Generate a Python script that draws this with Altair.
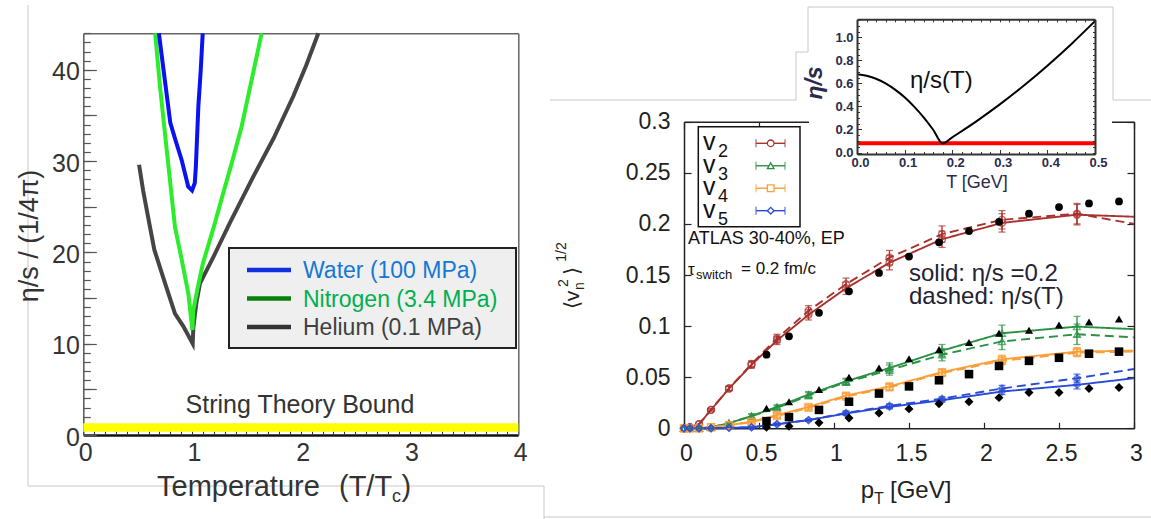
import altair as alt
import pandas as pd

W, H = 1151, 519
FONT = "Liberation Sans"

# ---------------- left panel: eta/s over T/Tc ----------------
fluids = ["Water (100 MPa)", "Nitrogen (3.4 MPa)", "Helium (0.1 MPa)"]
water_T = [0.695, 0.74, 0.80, 0.85, 0.905, 0.965, 1.0, 1.025, 1.035, 1.058, 1.08, 1.098]
water_v = [44, 39.8, 34.2, 32.2, 30.1, 27.2, 26.8, 27.6, 29.4, 36, 40, 44]
nitro_T = [0.661, 0.705, 0.77, 0.843, 0.90, 0.966, 1.003, 1.012, 1.05, 1.10, 1.20, 1.287, 1.37, 1.456, 1.55, 1.64]
nitro_v = [44, 38.2, 30.9, 22.8, 19.5, 15.5, 11.5, 13.7, 16.0, 18.8, 22.8, 26.5, 30.0, 33.8, 39.0, 44]
helium_T = [0.513, 0.55, 0.589, 0.653, 0.75, 0.843, 0.92, 1.006, 1.012, 1.04, 1.073, 1.2, 1.35, 1.563, 1.75, 1.931, 2.05, 2.161]
helium_v = [29.6, 26.8, 24.3, 20.3, 16.7, 13.3, 11.9, 10.0, 11.8, 14.5, 16.6, 19.6, 23.3, 28.3, 32.5, 37.1, 40.5, 44]
bound_lo, bound_hi = 0.35, 1.3
left_x_labels = [0, 1, 2, 3, 4]
left_y_labels = [0, 10, 20, 30, 40]
left_y_minor = list(range(0, 45))
left_y_major = list(range(0, 45, 5))
left_x_minor = [i / 10 for i in range(41)]

# ---------------- right panel: <v_n^2>^1/2 over pT ----------------
harmonics = ["v2", "v3", "v4", "v5"]
harm_subs = ["2", "3", "4", "5"]
pt_model = [0, 0.04, 0.1, 0.18, 0.3, 0.45, 0.62, 0.83, 1.08, 1.37, 1.72, 2.12, 2.62, 3.0]
v2_solid = [0, 0.001, 0.004, 0.018, 0.039, 0.062, 0.086, 0.111, 0.137, 0.162, 0.185, 0.201, 0.209, 0.207]
v2_dash = [0, 0.001, 0.004, 0.018, 0.039, 0.063, 0.088, 0.115, 0.141, 0.167, 0.190, 0.204, 0.210, 0.200]
v3_solid = [0, 0, 0, 0.001, 0.005, 0.012, 0.021, 0.033, 0.046, 0.059, 0.076, 0.093, 0.0995, 0.097]
v3_dash = [0, 0, 0, 0.001, 0.005, 0.012, 0.020, 0.032, 0.045, 0.057, 0.072, 0.085, 0.092, 0.089]
v4_solid = [0, 0, 0, 0.001, 0.003, 0.0065, 0.013, 0.021, 0.032, 0.041, 0.055, 0.0675, 0.075, 0.076]
v4_dash = [0, 0, 0, 0.001, 0.003, 0.006, 0.012, 0.020, 0.031, 0.040, 0.054, 0.066, 0.074, 0.075]
v5_solid = [0, 0, 0, 0, 0.0005, 0.001, 0.004, 0.008, 0.0145, 0.021, 0.0275, 0.036, 0.0425, 0.049]
v5_dash = [0, 0, 0, 0, 0.0005, 0.001, 0.004, 0.008, 0.015, 0.022, 0.029, 0.039, 0.049, 0.058]
v2_err = [0, 0, 0, 0.001, 0.002, 0.003, 0.004, 0.005, 0.006, 0.007, 0.008, 0.009, 0.010, 0]
v3_err = [0, 0, 0, 0, 0.001, 0.002, 0.002, 0.003, 0.003, 0.005, 0.006, 0.008, 0.010, 0]
v4_err = [0, 0, 0, 0, 0.001, 0.001, 0.002, 0.002, 0.003, 0.003, 0.003, 0.004, 0.004, 0]
v5_err = [0, 0, 0, 0, 0, 0.001, 0.001, 0.001, 0.002, 0.002, 0.002, 0.003, 0.004, 0]

pt_atlas = [0.55, 0.7, 0.9, 1.1, 1.3, 1.5, 1.7, 1.9, 2.1, 2.3, 2.5, 2.7, 2.9]
v2_atlas = [0.072, 0.090, 0.113, 0.134, 0.152, 0.168, 0.182, 0.193, 0.202, 0.210, 0.2165, 0.220, 0.222]
v3_atlas = [0.0196, 0.026, 0.038, 0.050, 0.059, 0.068, 0.077, 0.084, 0.093, 0.096, 0.101, 0.104, 0.107]
v4_atlas = [0.007, 0.011, 0.018, 0.026, 0.034, 0.041, 0.047, 0.053, 0.061, 0.066, 0.069, 0.073, 0.075]
v5_atlas = [0.001, 0.002, 0.0055, 0.010, 0.015, 0.019, 0.024, 0.026, 0.030, 0.035, 0.035, 0.039, 0.040]
main_x_vals = [0, 0.5, 1, 1.5, 2, 2.5, 3]
main_y_vals = [0, 0.05, 0.1, 0.15, 0.2, 0.25, 0.3]

# ---------------- inset: eta/s(T) ----------------
inset_T = [0, 0.02, 0.04, 0.06, 0.08, 0.10, 0.12, 0.14, 0.16, 0.18, 0.20, 0.25, 0.30, 0.35, 0.40, 0.45, 0.50]
inset_eta = [0.68, 0.668, 0.641, 0.601, 0.547, 0.480, 0.399, 0.306, 0.198, 0.078, 0.132, 0.269, 0.418, 0.58, 0.755, 0.942, 1.142]
kss_T = [0, 0.5]
kss_v = [0.08, 0.08]
inset_x_vals = [0, 0.1, 0.2, 0.3, 0.4, 0.5]
inset_y_vals = [0, 0.2, 0.4, 0.6, 0.8, 1.0]
inset_x_minor = [round(0.02 * i, 2) for i in range(26)]
inset_y_minor = [round(0.05 * i, 2) for i in range(24)]

# ---------------- styles ----------------
fluid_line_colors = ["#0a12f2", "#2cec2c", "#454545"]
fluid_leg_line_colors = ["#1030e0", "#0a800a", "#333333"]
fluid_leg_text_colors = ["#1478d4", "#00b050", "#404040"]
harm_colors = ["#a8322d", "#2a9143", "#fb9f3a", "#2a4bd7"]
harm_shapes = ["circle", "triangle-up", "square", "diamond"]
harm_black_sizes = [60, 80, 90, 80]

LX = alt.Scale(domain=[0, 4], range=[83.3, 518.3], nice=False, zero=False)
LY = alt.Scale(domain=[0, 44], range=[435, 33.3], nice=False, zero=False)
MX = alt.Scale(domain=[0, 3], range=[684, 1134], nice=False, zero=False)
MY = alt.Scale(domain=[0, 0.3], range=[428.3, 121.7], nice=False, zero=False)
IX = alt.Scale(domain=[0, 0.5], range=[857, 1095], nice=False, zero=False)
IY = alt.Scale(domain=[-0.013, 1.158], range=[154, 19.3], nice=False, zero=False)

dummy = pd.DataFrame({"k": [0]})


def ax_layer(ch, scale, values, orient, pos, **kw):
    if orient == "left":
        off = -pos
    elif orient == "right":
        off = pos - W
    elif orient == "top":
        off = -pos
    else:
        off = pos - H
    opts = dict(values=values, orient=orient, offset=off, title=None, grid=False,
                labelFlush=False, labelOverlap=False, labels=False, ticks=False,
                domain=False, tickSize=0, labelFont=FONT)
    opts.update(kw)
    ax = alt.Axis(**opts)
    df = pd.DataFrame({"v": values})
    if ch == "x":
        enc = dict(x=alt.X("v:Q", scale=scale, axis=ax))
    else:
        enc = dict(y=alt.Y("v:Q", scale=scale, axis=ax))
    return alt.Chart(df).mark_point(opacity=0).encode(**enc)


def txt(s, x, y, size, color="#333333", align="left", baseline="alphabetic",
        angle=0, weight="normal", style="normal", font=FONT, line_height=None):
    kw = dict(text=s, fontSize=size, color=color, align=align, baseline=baseline,
              angle=angle, fontWeight=weight, fontStyle=style, font=font)
    if line_height:
        kw["lineHeight"] = line_height
    return alt.Chart(dummy).mark_text(**kw).encode(x=alt.value(x), y=alt.value(y))


def seg(x1, y1, x2, y2, color="#c8c8c8", width=1):
    return alt.Chart(dummy).mark_rule(color=color, strokeWidth=width).encode(
        x=alt.value(x1), y=alt.value(y1), x2=alt.value(x2), y2=alt.value(y2))


def box(x1, y1, x2, y2, fill, stroke=None, sw=0):
    kw = dict(fill=fill, strokeWidth=sw)
    if stroke:
        kw["stroke"] = stroke
    return alt.Chart(dummy).mark_rect(**kw).encode(
        x=alt.value(x1), y=alt.value(y1), x2=alt.value(x2), y2=alt.value(y2))


layers = []

# decorative slide frames
for s in [(28, 5, 28, 486), (28, 486, 544, 486), (544, 486, 544, 519), (544, 517, 1151, 517),
          (550, 100, 796, 100), (796, 52, 796, 100), (796, 52, 808, 52),
          (1113, 100, 1151, 100)]:
    layers.append(seg(*s))

# ---------- left panel ----------
band = pd.DataFrame({"x0": [0], "x1": [4], "y0": [bound_lo], "y1": [bound_hi]})
layers.append(alt.Chart(band).mark_rect(color="#ffff00").encode(
    x=alt.X("x0:Q", scale=LX, axis=None), x2="x1:Q",
    y=alt.Y("y0:Q", scale=LY, axis=None), y2="y1:Q"))


def left_line(Ts, vs, color):
    df = pd.DataFrame({"T": Ts, "v": vs, "i": list(range(len(Ts)))})
    return alt.Chart(df).mark_line(color=color, strokeWidth=4).encode(
        x=alt.X("T:Q", scale=LX, axis=None), y=alt.Y("v:Q", scale=LY, axis=None),
        order="i:Q")


layers.append(left_line(helium_T, helium_v, fluid_line_colors[2]))
layers.append(left_line(nitro_T, nitro_v, fluid_line_colors[1]))
layers.append(left_line(water_T, water_v, fluid_line_colors[0]))

# left axes
layers.append(ax_layer("y", LY, left_y_labels, "left", 83.3, labels=True, domain=True,
                       domainColor="#555555", domainWidth=1.5, labelFontSize=25,
                       labelColor="#333333", labelPadding=4, labelOffset=2, format="d"))
layers.append(ax_layer("x", LX, left_x_labels, "bottom", 435, labels=True, domain=True,
                       domainColor="#111111", domainWidth=2.5, labelFontSize=25,
                       labelColor="#333333", labelPadding=5, labelOffset=2, format="d"))
layers.append(ax_layer("x", LX, [0, 4], "top", 33.3, domain=True, domainColor="#666666", domainWidth=1.5))
layers.append(ax_layer("y", LY, [0, 44], "right", 518.3, domain=True, domainColor="#666666", domainWidth=1.5))
layers.append(ax_layer("y", LY, left_y_minor, "right", 83.3, ticks=True, tickSize=7,
                       tickColor="#555555", tickWidth=1.2))
layers.append(ax_layer("y", LY, left_y_major, "right", 83.3, ticks=True, tickSize=13,
                       tickColor="#555555", tickWidth=1.2))
layers.append(ax_layer("x", LX, left_x_minor, "top", 435, ticks=True, tickSize=4,
                       tickColor="#333333", tickWidth=1))

# left legend
LL = alt.Scale(type="point", domain=fluids, range=[270, 327], padding=0)
fl = pd.DataFrame({"f": fluids})
layers.append(box(229, 248, 516, 348, "#efefef", "#222222", 2))
layers.append(alt.Chart(fl).mark_rule(strokeWidth=4.5).encode(
    x=alt.value(247), x2=alt.value(291), y=alt.Y("f:N", scale=LL, axis=None),
    color=alt.Color("f:N", scale=alt.Scale(domain=fluids, range=fluid_leg_line_colors), legend=None)))
layers.append(alt.Chart(fl).mark_text(align="left", baseline="middle", fontSize=23, font=FONT, dy=1).encode(
    x=alt.value(303), y=alt.Y("f:N", scale=LL, axis=None), text="f:N",
    color=alt.Color("f:N", scale=alt.Scale(domain=fluids, range=fluid_leg_text_colors), legend=None)))

# left texts
layers.append(txt("String Theory Bound", 300, 413, 25, align="center"))
layers.append(txt("Temperature", 157, 496, 29))
layers.append(txt("(T/T", 339, 496, 29))
layers.append(txt("c", 392, 502, 18))
layers.append(txt(")", 401.5, 496, 29))
layers.append(txt("η/s / (1/4π)", 30, 236, 27, align="center", baseline="middle", angle=270))

# ---------- right main panel ----------
rows = []
for h, sol, das, err in zip(harmonics, [v2_solid, v3_solid, v4_solid, v5_solid],
                            [v2_dash, v3_dash, v4_dash, v5_dash],
                            [v2_err, v3_err, v4_err, v5_err]):
    for p, a, b, e in zip(pt_model, sol, das, err):
        rows.append({"pT": p, "val": a, "err": e, "h": h, "style": "solid"})
        rows.append({"pT": p, "val": b, "err": e, "h": h, "style": "dashed"})
model = pd.DataFrame(rows)

arows = []
for h, vals in zip(harmonics, [v2_atlas, v3_atlas, v4_atlas, v5_atlas]):
    for p, v in zip(pt_atlas, vals):
        arows.append({"pT": p, "val": v, "h": h})
atlas = pd.DataFrame(arows)

hcol = alt.Color("h:N", scale=alt.Scale(domain=harmonics, range=harm_colors), legend=None)
hshape = alt.Shape("h:N", scale=alt.Scale(domain=harmonics, range=harm_shapes), legend=None)
mx = alt.X("pT:Q", scale=MX, axis=None)

layers.append(alt.Chart(model).mark_line(strokeWidth=1.9).encode(
    x=mx, y=alt.Y("val:Q", scale=MY, axis=None), color=hcol,
    strokeDash=alt.StrokeDash("style:N", scale=alt.Scale(domain=["solid", "dashed"], range=[[1, 0], [9, 5]]), legend=None)))

eb = alt.Chart(model).transform_filter("datum.err > 0").transform_calculate(
    lo="datum.val - datum.err", hi="datum.val + datum.err")
layers.append(eb.mark_rule(strokeWidth=1.3).encode(
    x=mx, y=alt.Y("lo:Q", scale=MY, axis=None), y2="hi:Q", color=hcol))
layers.append(eb.mark_tick(orient="horizontal", size=7, thickness=1.3).encode(
    x=mx, y=alt.Y("lo:Q", scale=MY, axis=None), color=hcol))
layers.append(eb.mark_tick(orient="horizontal", size=7, thickness=1.3).encode(
    x=mx, y=alt.Y("hi:Q", scale=MY, axis=None), color=hcol))
layers.append(alt.Chart(model).transform_filter("datum.pT < 2.9").mark_point(
    filled=False, size=48, strokeWidth=1.4).encode(
    x=mx, y=alt.Y("val:Q", scale=MY, axis=None), color=hcol, shape=hshape))
layers.append(alt.Chart(atlas).mark_point(filled=True, color="black", opacity=1).encode(
    x=mx, y=alt.Y("val:Q", scale=MY, axis=None), shape=hshape,
    size=alt.Size("h:N", scale=alt.Scale(domain=harmonics, range=harm_black_sizes), legend=None)))

# main axes
layers.append(ax_layer("y", MY, main_y_vals, "left", 684, labels=True, domain=True,
                       domainColor="#222222", domainWidth=1.5, labelFontSize=23,
                       labelColor="#222222", labelPadding=14, format="~g"))
layers.append(ax_layer("x", MX, main_x_vals, "bottom", 428.3, labels=True, domain=True,
                       domainColor="#222222", domainWidth=1.5, labelFontSize=23,
                       labelColor="#222222", labelPadding=14, labelOffset=2, format="~g"))
layers.append(ax_layer("x", MX, main_x_vals, "bottom", 121.7, domain=True, domainColor="#222222",
                       domainWidth=1.5, ticks=True, tickSize=7, tickColor="#222222", tickWidth=1.2))
layers.append(ax_layer("y", MY, main_y_vals, "left", 1134, domain=True, domainColor="#222222",
                       domainWidth=1.5, ticks=True, tickSize=7, tickColor="#222222", tickWidth=1.2))
layers.append(ax_layer("y", MY, main_y_vals, "right", 684, ticks=True, tickSize=7,
                       tickColor="#222222", tickWidth=1.2))
layers.append(ax_layer("x", MX, main_x_vals, "top", 428.3, ticks=True, tickSize=6,
                       tickColor="#222222", tickWidth=1.2))

# main legend (labels as two multi-line texts: "v" column and subscript column)
RL = alt.Scale(type="point", domain=harmonics, range=[143.3, 210.7], padding=0)
hl = pd.DataFrame({"h": harmonics, "n": harm_subs})
ry = alt.Y("h:N", scale=RL, axis=None)
layers.append(box(698.3, 126.7, 800, 226.7, "white", "#111111", 1.5))
layers.append(txt(["v"] * len(harmonics), 703, 150.3, 25, color="#111111", line_height=22.47))
layers.append(txt(harm_subs, 718, 157.3, 18, color="#111111", line_height=22.47))
layers.append(alt.Chart(hl).mark_rule(strokeWidth=1.4).encode(
    x=alt.value(756), x2=alt.value(785), y=ry, color=hcol))
for xc in (756, 785):
    layers.append(alt.Chart(hl).mark_tick(orient="vertical", size=8, thickness=1.3).encode(
        x=alt.value(xc), y=ry, color=hcol))
layers.append(alt.Chart(hl).mark_point(filled=False, size=44, strokeWidth=1.3, fill="white",
                                       fillOpacity=1).encode(
    x=alt.value(770.7), y=ry, color=hcol, shape=hshape))

# main texts
layers.append(txt("ATLAS 30-40%, EP", 688, 244, 18, color="#111111"))
layers.append(txt("τ", 688, 275, 17, color="#111111"))
layers.append(txt("switch", 696, 279, 13, color="#111111"))
layers.append(txt("= 0.2 fm/c", 741, 274, 17, color="#111111"))
layers.append(txt("solid: η/s =0.2", 909, 281, 24, color="#222233"))
layers.append(txt("dashed: η/s(T)", 909, 304, 24, color="#222233"))
layers.append(txt("p", 874, 498, 24, color="#222222", align="right"))
layers.append(txt("T", 874, 504, 16, color="#222222"))
layers.append(txt("[GeV]", 890, 498, 24, color="#222222"))
layers.append(txt("⟨v", 573, 300, 21, color="#222222", align="center", baseline="middle", angle=270))
layers.append(txt("n", 580, 286, 14, color="#222222", align="center", baseline="middle", angle=270))
layers.append(txt("2", 564, 283, 14, color="#222222", align="center", baseline="middle", angle=270))
layers.append(txt("⟩", 573, 271, 21, color="#222222", align="center", baseline="middle", angle=270))
layers.append(txt("1/2", 562, 252, 14, color="#222222", align="center", baseline="middle", angle=270))

# ---------- inset ----------
layers.append(box(809, 8, 1112, 196, "white"))
for s in [(808, 7, 808, 52), (808, 7, 1113, 7), (1113, 7, 1113, 100)]:
    layers.append(seg(*s))

kss = pd.DataFrame({"T": kss_T, "v": kss_v})
layers.append(alt.Chart(kss).mark_line(color="#ff0000", strokeWidth=4).encode(
    x=alt.X("T:Q", scale=IX, axis=None), y=alt.Y("v:Q", scale=IY, axis=None)))
ins = pd.DataFrame({"T": inset_T, "v": inset_eta})
layers.append(alt.Chart(ins).mark_line(color="black", strokeWidth=2, interpolate="monotone").encode(
    x=alt.X("T:Q", scale=IX, axis=None), y=alt.Y("v:Q", scale=IY, axis=None)))

ICOL = "#2b2b4b"
layers.append(ax_layer("y", IY, inset_y_vals, "left", 857, labels=True, domain=True, zindex=1,
                       domainColor="#333333", domainWidth=2, labelFontSize=13, labelFontWeight="bold",
                       labelColor=ICOL, labelPadding=4, format=".1f"))
layers.append(ax_layer("x", IX, inset_x_vals, "bottom", 154, labels=True, domain=True, zindex=1,
                       domainColor="#333333", domainWidth=2, labelFontSize=13, labelFontWeight="bold",
                       labelColor=ICOL, labelPadding=2, labelOffset=3, format=".1f"))
layers.append(ax_layer("x", IX, inset_x_minor, "bottom", 19.3, domain=True, zindex=1,
                       domainColor="#333333", domainWidth=2, ticks=True, tickSize=2.5,
                       tickColor="#333333", tickWidth=1))
layers.append(ax_layer("y", IY, inset_y_minor, "left", 1095, domain=True, zindex=1,
                       domainColor="#333333", domainWidth=2, ticks=True, tickSize=2.5,
                       tickColor="#333333", tickWidth=1))
layers.append(ax_layer("y", IY, inset_y_minor, "right", 857, zindex=1, ticks=True, tickSize=2.5,
                       tickColor="#333333", tickWidth=1))
layers.append(ax_layer("x", IX, inset_x_minor, "top", 154, zindex=1, ticks=True, tickSize=2.5,
                       tickColor="#333333", tickWidth=1))
layers.append(ax_layer("x", IX, inset_x_vals, "top", 154, zindex=1, ticks=True, tickSize=4.5,
                       tickColor="#333333", tickWidth=1))
layers.append(ax_layer("y", IY, inset_y_vals, "right", 857, zindex=1, ticks=True, tickSize=4.5,
                       tickColor="#333333", tickWidth=1))

layers.append(txt("η/s(T)", 910, 88, 24, color="#111111"))
layers.append(txt("η/s", 815, 83, 23, color=ICOL, align="center", baseline="middle",
                  angle=270, weight="bold", style="italic"))
layers.append(txt("T [GeV]", 977, 188, 18, color=ICOL, align="center"))

chart = alt.layer(*layers).resolve_scale(
    x="independent", y="independent", color="independent", shape="independent",
    size="independent", strokeDash="independent"
).properties(
    width=W, height=H, autosize=alt.AutoSizeParams(type="none"), padding=0
).configure_view(strokeWidth=0)

chart.save("out.html", embed_options={"renderer": "svg", "actions": False})
